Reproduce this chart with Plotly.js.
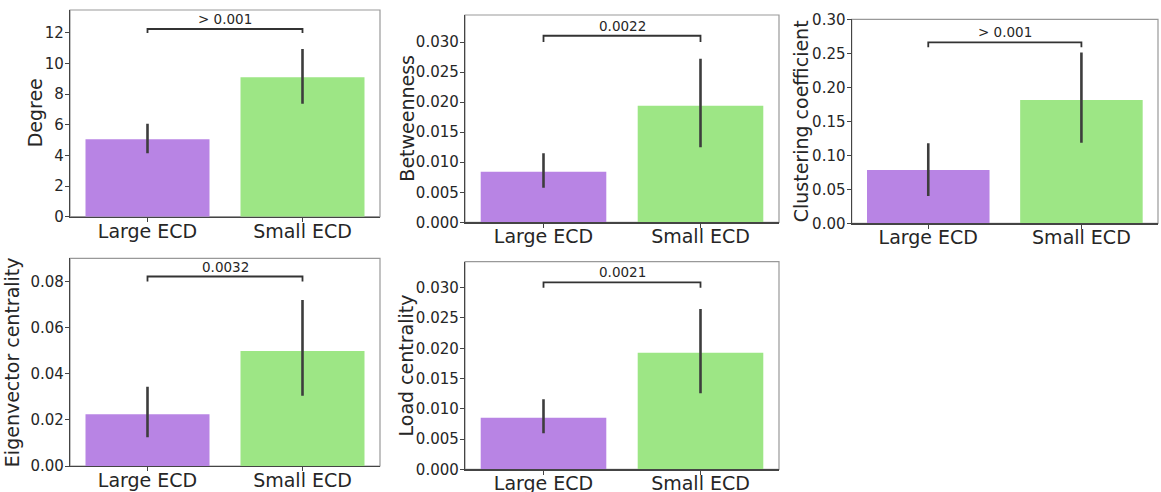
<!DOCTYPE html>
<html>
<head>
<meta charset="utf-8">
<script src="https://cdn.plot.ly/plotly-3.0.1.min.js"></script>
<style>html,body{margin:0;padding:0;background:#fff;}#chart{width:1161px;height:492px;}</style>
</head>
<body>
<div id="chart"></div>
<script>
const categories = ['Large ECD', 'Small ECD'];

const degree = [5.06, 9.10];
const degreeHi = [6.07, 10.95];
const degreeLo = [4.15, 7.37];

const betweenness = [0.00843, 0.01938];
const betweennessHi = [0.0115, 0.0272];
const betweennessLo = [0.00577, 0.0125];

const clustering = [0.0784, 0.1813];
const clusteringHi = [0.1176, 0.251];
const clusteringLo = [0.0401, 0.1186];

const eigenvector = [0.0224, 0.0499];
const eigenvectorHi = [0.0344, 0.0720];
const eigenvectorLo = [0.01245, 0.0305];

const load = [0.00852, 0.01926];
const loadHi = [0.01156, 0.02648];
const loadLo = [0.00595, 0.01255];

const metricNames = ['Degree', 'Betweenness', 'Clustering coefficient', 'Eigenvector centrality', 'Load centrality'];
const pValues = ['> 0.001', '0.0022', '> 0.001', '0.0032', '0.0021'];
const bracketTop = [12.26, 0.03105, 0.266, 0.0822, 0.0309];
const bracketFoot = [12.0, 0.030, 0.259, 0.080, 0.030];

const barColors = ['#b884e4', '#9de685'];

const panels = [
  {v: degree, hi: degreeHi, lo: degreeLo, range: [0, 13.5], dtick: 2, fmt: 'd', px: [70, 380], py: [10, 216.7], tx: 35},
  {v: betweenness, hi: betweennessHi, lo: betweennessLo, range: [0, 0.0345], dtick: 0.005, fmt: '.3f', px: [465, 779], py: [15, 222.3], tx: 407},
  {v: clustering, hi: clusteringHi, lo: clusteringLo, range: [0, 0.30], dtick: 0.05, fmt: '.2f', px: [851.7, 1158], py: [19.3, 223.3], tx: 801},
  {v: eigenvector, hi: eigenvectorHi, lo: eigenvectorLo, range: [0, 0.0901], dtick: 0.02, fmt: '.2f', px: [70, 380], py: [258.3, 466], tx: 12},
  {v: load, hi: loadHi, lo: loadLo, range: [0, 0.0343], dtick: 0.005, fmt: '.3f', px: [465, 779], py: [261.7, 469.3], tx: 405}
];

const W = 1161, H = 492;
const textColor = '#262626';
const traces = [];
const layout = {
  width: W, height: H,
  margin: {l: 0, r: 0, t: 0, b: 0},
  paper_bgcolor: '#ffffff',
  plot_bgcolor: '#ffffff',
  showlegend: false,
  font: {family: 'DejaVu Sans, sans-serif', color: textColor, size: 15},
  annotations: [],
  shapes: []
};

panels.forEach((p, i) => {
  const n = i + 1;
  const xa = n === 1 ? 'x' : 'x' + n;
  const ya = n === 1 ? 'y' : 'y' + n;
  traces.push({
    type: 'bar', x: categories, y: p.v, xaxis: xa, yaxis: ya,
    width: 0.8,
    marker: {color: barColors, line: {width: 0}},
    error_y: {
      type: 'data', symmetric: false,
      array: p.hi.map((h, k) => h - p.v[k]),
      arrayminus: p.v.map((v, k) => v - p.lo[k]),
      color: '#3d3d3d', thickness: 2.6, width: 0
    },
    hoverinfo: 'x+y'
  });
  traces.push({
    type: 'scatter', mode: 'lines', xaxis: xa, yaxis: ya,
    x: [categories[0], categories[0], categories[1], categories[1]],
    y: [bracketFoot[i], bracketTop[i], bracketTop[i], bracketFoot[i]],
    line: {color: '#333333', width: 1.8},
    hoverinfo: 'skip'
  });
  layout.annotations.push({
    xref: xa, yref: ya, x: 0.5, y: bracketTop[i],
    text: pValues[i], showarrow: false, yanchor: 'bottom', yshift: 0,
    font: {size: 13.5, color: textColor}
  });
  // y-axis title
  layout.annotations.push({
    xref: 'paper', yref: ya + ' domain', x: p.tx / W, y: 0.5,
    xanchor: 'center', yanchor: 'middle', textangle: -90,
    text: metricNames[i], showarrow: false,
    font: {size: 19, color: textColor}
  });
  layout['xaxis' + (n === 1 ? '' : n)] = {
    domain: [p.px[0] / W, p.px[1] / W],
    anchor: ya, range: [-0.5, 1.5], type: 'category',
    showgrid: false, zeroline: false,
    showline: true, linecolor: '#444', linewidth: 1.2, mirror: false,
    ticks: 'outside', ticklen: 4, tickcolor: '#444',
    ticklabelstandoff: -7,
    tickfont: {size: 19, color: textColor},
    fixedrange: true
  };
  layout['yaxis' + (n === 1 ? '' : n)] = {
    domain: [1 - p.py[1] / H, 1 - p.py[0] / H],
    anchor: xa, range: p.range, dtick: p.dtick, tick0: 0, tickformat: p.fmt,
    showgrid: false, zeroline: false,
    showline: true, linecolor: '#444', linewidth: 1.2,
    ticks: 'outside', ticklen: 4, tickcolor: '#444',
    ticklabelstandoff: -2,
    tickfont: {size: 15, color: textColor},
    fixedrange: true
  };
  layout.shapes.push({
    type: 'rect', xref: xa + ' domain', yref: ya + ' domain',
    x0: 0, x1: 1, y0: 0, y1: 1,
    line: {color: '#999999', width: 1.2}, layer: 'below'
  });
});

Plotly.newPlot('chart', traces, layout, {displayModeBar: false, staticPlot: true});
</script>
</body>
</html>
